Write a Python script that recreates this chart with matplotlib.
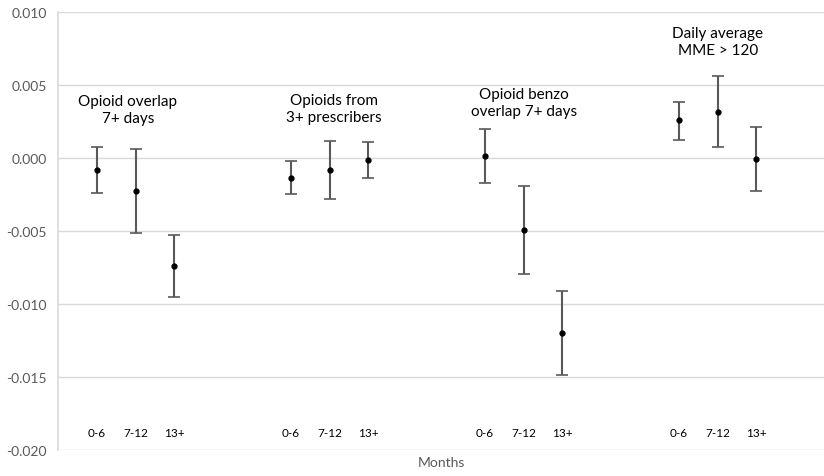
import matplotlib
matplotlib.use("Agg")
import matplotlib.pyplot as plt

# estimates: point, lower bound, upper bound
groups = ["Opioid overlap\n7+ days", "Opioids from\n3+ prescribers",
          "Opioid benzo\noverlap 7+ days", "Daily average\nMME > 120"]
months = ["0-6", "7-12", "13+"]

est = [-0.00082, -0.00226, -0.0074,
       -0.00135, -0.00082, -0.00016,
       0.00014, -0.00493, -0.01196,
       0.0026, 0.00315, -0.00007]
lower = [-0.00242, -0.00514, -0.00954,
         -0.00249, -0.00283, -0.00139,
         -0.00171, -0.00795, -0.01486,
         0.00125, 0.00075, -0.00226]
upper = [0.00075, 0.00064, -0.00525,
         -0.0002, 0.00116, 0.00112,
         0.00199, -0.00192, -0.00909,
         0.00386, 0.00562, 0.00214]

# where the two-line group titles sit (x offset from group middle, y in data units)
title_dx = [-0.2, 0.1, 0.0, 0.0]
title_y = [0.0033, 0.0034, 0.0038, 0.0080]

plt.rcParams["font.family"] = ["Lato", "DejaVu Sans"]

xs = [g * 5 + i + 1 for g in range(len(groups)) for i in range(len(months))]
yerr = [[e - lo for e, lo in zip(est, lower)], [hi - e for e, hi in zip(est, upper)]]

fig = plt.figure(figsize=(8.24, 4.77), dpi=100)
ax = fig.add_axes([0.0704, 0.0545, 0.9296, 0.9182])

ax.errorbar(xs, est, yerr=yerr, fmt="o", color="black", ms=3.5,
            ecolor="#595959", elinewidth=1.5, capsize=4, capthick=1.2, zorder=3)

for g, name in enumerate(groups):
    cx = g * 5 + 2 + title_dx[g]
    ax.text(cx, title_y[g], name, ha="center", va="center", fontsize=11,
            linespacing=1.25, color="black")
    for i, m in enumerate(months):
        ax.text(g * 5 + i + 1, -0.01877, m, ha="center", va="center",
                fontsize=8.5, color="black")

ax.set_xlim(0, 19.74)
ax.set_ylim(-0.020, 0.010)
ax.set_yticks([-0.020, -0.015, -0.010, -0.005, 0.0, 0.005, 0.010])
ax.set_yticklabels([f"{v:.3f}" for v in ax.get_yticks()], fontsize=10, color="#595959")
ax.set_xticks([])
ax.grid(axis="y", color="#d9d9d9", linewidth=1)
ax.set_axisbelow(True)
ax.tick_params(axis="y", length=0, pad=8)
for side in ["top", "right", "bottom"]:
    ax.spines[side].set_visible(False)
ax.spines["left"].set_color("#d9d9d9")
ax.spines["left"].set_linewidth(1.2)

ax.set_xlabel("Months", fontsize=10, color="#595959", labelpad=4)

fig.savefig("out.png", dpi=100)
